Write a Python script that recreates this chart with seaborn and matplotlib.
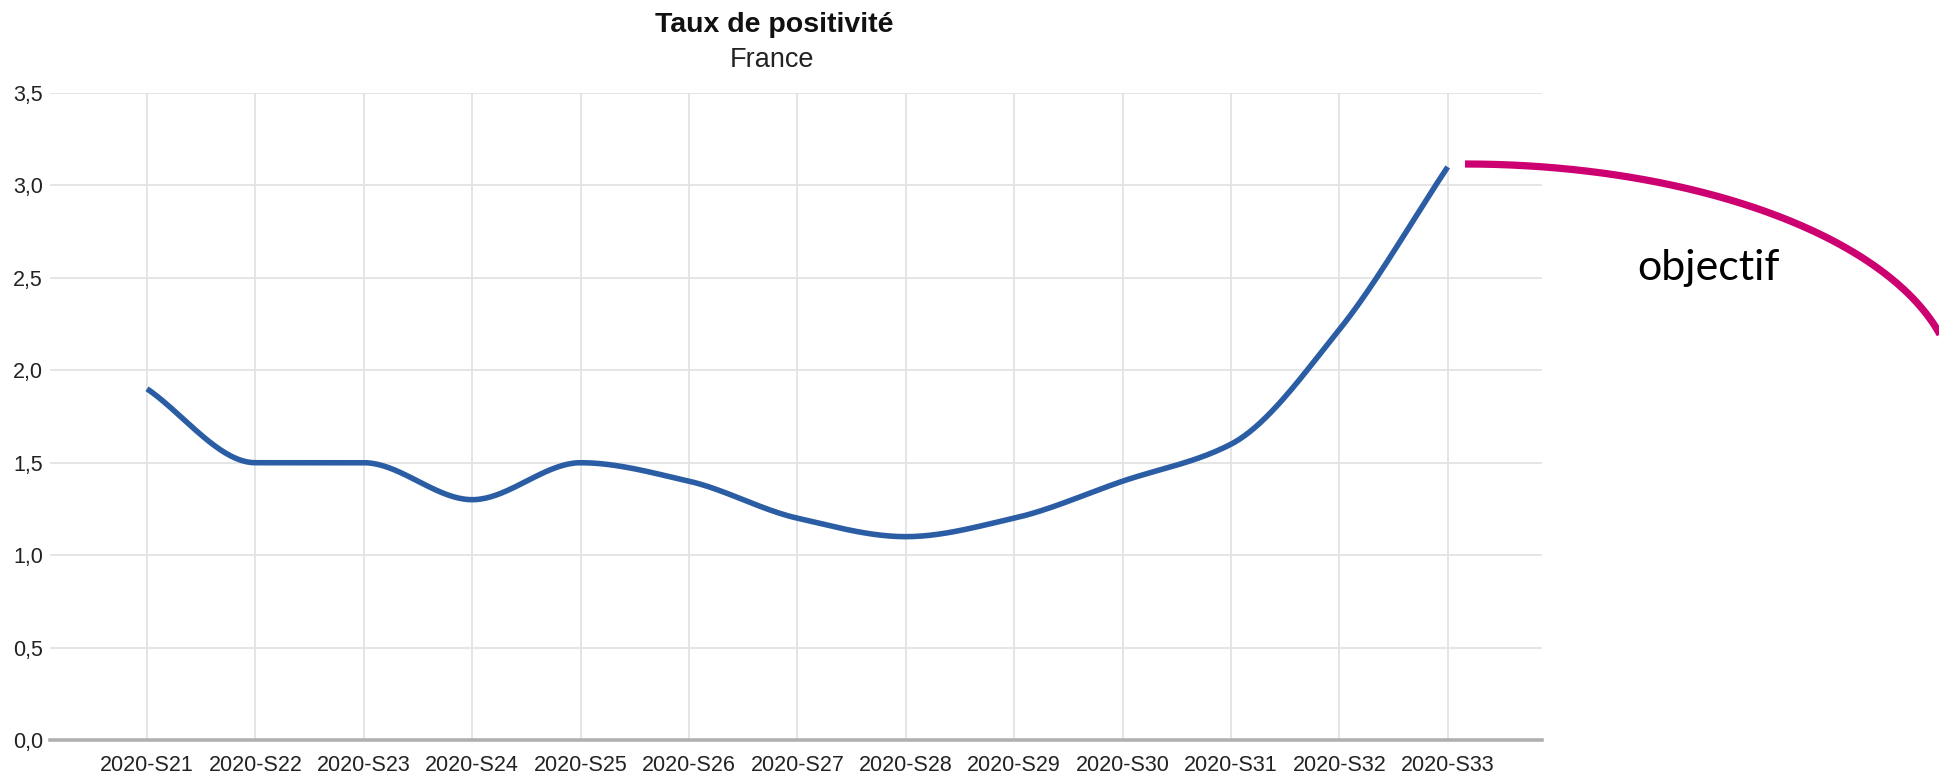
import matplotlib
matplotlib.use("Agg")
import matplotlib.pyplot as plt
import matplotlib.ticker as mticker
from matplotlib.lines import Line2D
import numpy as np
import pandas as pd
import seaborn as sns

# weekly positivity rate, France
weeks = ["2020-S21", "2020-S22", "2020-S23", "2020-S24", "2020-S25", "2020-S26", "2020-S27",
         "2020-S28", "2020-S29", "2020-S30", "2020-S31", "2020-S32", "2020-S33"]
taux = [1.9, 1.5, 1.5, 1.3, 1.5, 1.4, 1.2, 1.1, 1.2, 1.4, 1.6, 2.22, 3.1]
y_ticks = [0.0, 0.5, 1.0, 1.5, 2.0, 2.5, 3.0, 3.5]
title = "Taux de positivité"
subtitle = "France"
note = "objectif"


def pchip(x, y, n=40):
    # monotone cubic curve through the points (like the "function" curve of the original chart)
    x = np.asarray(x, float)
    y = np.asarray(y, float)
    h = np.diff(x)
    d = np.diff(y) / h
    m = np.zeros_like(y)
    for i in range(1, len(y) - 1):
        if d[i - 1] * d[i] > 0:
            w1 = 2 * h[i] + h[i - 1]
            w2 = h[i] + 2 * h[i - 1]
            m[i] = (w1 + w2) / (w1 / d[i - 1] + w2 / d[i])
    m[0] = d[0]
    m[-1] = d[-1]
    xs, ys = [], []
    for i in range(len(h)):
        t = np.linspace(0, 1, n, endpoint=(i == len(h) - 1))
        h00 = 2 * t**3 - 3 * t**2 + 1
        h10 = t**3 - 2 * t**2 + t
        h01 = -2 * t**3 + 3 * t**2
        h11 = t**3 - t**2
        xs.append(x[i] + t * h[i])
        ys.append(h00 * y[i] + h10 * h[i] * m[i] + h01 * y[i + 1] + h11 * h[i] * m[i + 1])
    return np.concatenate(xs), np.concatenate(ys)


df = pd.DataFrame({"week": weeks, "taux": taux})
df["pos"] = np.arange(len(df))
xf, yf = pchip(df["pos"], df["taux"])
smooth = pd.DataFrame({"pos": xf, "taux": yf})

W, H = 1939, 777
sns.set_style("white")
plt.rcParams["font.family"] = ["Liberation Sans", "DejaVu Sans"]

fig = plt.figure(figsize=(W / 100, H / 100), dpi=100)
ax = fig.add_axes([50 / W, (H - 740) / H, 1492 / W, 647 / H])

sns.lineplot(data=smooth, x="pos", y="taux", ax=ax, color="#2b5da5", lw=4.0,
             solid_capstyle="butt", zorder=3)

ax.set_xlim(-0.895, 12.87)
ax.set_ylim(0, 3.5)
ax.set_xticks(df["pos"])
ax.set_xticklabels(df["week"])
ax.set_yticks(y_ticks)
ax.yaxis.set_major_formatter(mticker.FuncFormatter(lambda v, p: f"{v:.1f}".replace(".", ",")))
ax.grid(True, color="#e3e3e3", lw=1.3)
ax.set_axisbelow(True)
for s in ["top", "right", "left"]:
    ax.spines[s].set_visible(False)
ax.spines["bottom"].set_color("#b0b0b0")
ax.spines["bottom"].set_linewidth(2.6)
ax.spines["bottom"].set_zorder(2)
ax.tick_params(axis="x", length=7, width=1.3, color="#e3e3e3", pad=4, labelsize=15.5, labelcolor="#222222")
ax.tick_params(axis="y", length=0, pad=5, labelsize=15.5, labelcolor="#222222")
ax.set_xlabel("")
ax.set_ylabel("")

fig.text(774 / W, 1 - 25 / H, title, ha="center", va="center", fontsize=20.5, fontweight="bold", color="#111111")
fig.text(772 / W, 1 - 60 / H, subtitle, ha="center", va="center", fontsize=19.5, color="#222222")

# magenta arc pointing to the last value
t = np.linspace(np.pi / 2, 0, 200)
cx, cy, a, b = 1465, 390, 490, 226
px = cx + a * np.cos(t)
py = cy - b * np.sin(t)
fig.add_artist(Line2D(px / W, 1 - py / H, transform=fig.transFigure, color="#cc0070", lw=5.2,
                      solid_capstyle="butt"))
fig.text(1708 / W, 1 - 280 / H, note, ha="center", va="baseline", fontsize=31,
         family=["Lato", "DejaVu Sans"], color="black")

fig.savefig("out.png", dpi=100)
